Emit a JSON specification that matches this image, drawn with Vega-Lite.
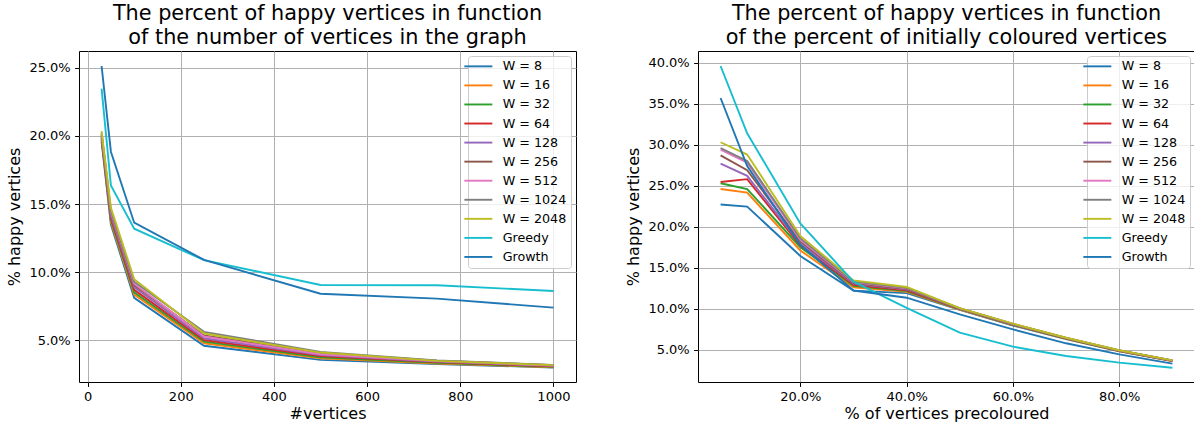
{
 "$schema": "https://vega.github.io/schema/vega-lite/v6.json",
 "padding": {"left": 6, "top": 2, "right": 0, "bottom": 0},
 "spacing": 48,
 "config": {
  "font": "DejaVu Sans",
  "view": {"stroke": "black", "strokeWidth": 1},
  "axis": {"domain": false, "grid": true, "gridColor": "#b0b0b0", "gridWidth": 1, "tickColor": "black", "tickSize": 4.4, "tickWidth": 1, "labelPadding": 4.4, "labelFontSize": 13, "labelColor": "black", "titleFontSize": 16, "titleFontWeight": "normal", "titleColor": "black", "labelFont": "DejaVu Sans", "titleFont": "DejaVu Sans"},
  "axisX": {"titlePadding": 2},
  "axisY": {"titlePadding": 6},
  "title": {"fontSize": 20.8, "fontWeight": "normal", "color": "black", "lineHeight": 24, "anchor": "middle", "offset": 2, "font": "DejaVu Sans"},
  "legend": {"orient": "top-right", "offset": 5, "title": null, "symbolType": "M-2.8,0H2.8", "symbolSize": 100, "symbolStrokeWidth": 1.9, "labelFontSize": 12.7, "labelFont": "DejaVu Sans", "labelColor": "black", "labelOffset": 18, "rowPadding": 5.06, "padding": 4, "strokeColor": "#cccccc", "fillColor": "rgba(255,255,255,0.8)", "cornerRadius": 3}
 },
 "resolve": {"legend": {"color": "independent"}},
 "datasets": {
  "left": [
   {"s":"W = 8","x":30,"y":0.1960},{"s":"W = 8","x":50,"y":0.1350},{"s":"W = 8","x":100,"y":0.0812},{"s":"W = 8","x":250,"y":0.0460},{"s":"W = 8","x":500,"y":0.0356},{"s":"W = 8","x":750,"y":0.0326},{"s":"W = 8","x":1000,"y":0.0300},
   {"s":"W = 16","x":30,"y":0.1970},{"s":"W = 16","x":50,"y":0.1368},{"s":"W = 16","x":100,"y":0.0835},{"s":"W = 16","x":250,"y":0.0478},{"s":"W = 16","x":500,"y":0.0368},{"s":"W = 16","x":750,"y":0.0330},{"s":"W = 16","x":1000,"y":0.0302},
   {"s":"W = 32","x":30,"y":0.1980},{"s":"W = 32","x":50,"y":0.1385},{"s":"W = 32","x":100,"y":0.0852},{"s":"W = 32","x":250,"y":0.0490},{"s":"W = 32","x":500,"y":0.0376},{"s":"W = 32","x":750,"y":0.0335},{"s":"W = 32","x":1000,"y":0.0305},
   {"s":"W = 64","x":30,"y":0.1990},{"s":"W = 64","x":50,"y":0.1398},{"s":"W = 64","x":100,"y":0.0870},{"s":"W = 64","x":250,"y":0.0502},{"s":"W = 64","x":500,"y":0.0384},{"s":"W = 64","x":750,"y":0.0340},{"s":"W = 64","x":1000,"y":0.0309},
   {"s":"W = 128","x":30,"y":0.2000},{"s":"W = 128","x":50,"y":0.1412},{"s":"W = 128","x":100,"y":0.0890},{"s":"W = 128","x":250,"y":0.0515},{"s":"W = 128","x":500,"y":0.0392},{"s":"W = 128","x":750,"y":0.0344},{"s":"W = 128","x":1000,"y":0.0312},
   {"s":"W = 256","x":30,"y":0.2010},{"s":"W = 256","x":50,"y":0.1428},{"s":"W = 256","x":100,"y":0.0905},{"s":"W = 256","x":250,"y":0.0535},{"s":"W = 256","x":500,"y":0.0405},{"s":"W = 256","x":750,"y":0.0350},{"s":"W = 256","x":1000,"y":0.0318},
   {"s":"W = 512","x":30,"y":0.2015},{"s":"W = 512","x":50,"y":0.1440},{"s":"W = 512","x":100,"y":0.0915},{"s":"W = 512","x":250,"y":0.0528},{"s":"W = 512","x":500,"y":0.0398},{"s":"W = 512","x":750,"y":0.0347},{"s":"W = 512","x":1000,"y":0.0315},
   {"s":"W = 1024","x":30,"y":0.2022},{"s":"W = 1024","x":50,"y":0.1452},{"s":"W = 1024","x":100,"y":0.0930},{"s":"W = 1024","x":250,"y":0.0562},{"s":"W = 1024","x":500,"y":0.0415},{"s":"W = 1024","x":750,"y":0.0352},{"s":"W = 1024","x":1000,"y":0.0320},
   {"s":"W = 2048","x":30,"y":0.2035},{"s":"W = 2048","x":50,"y":0.1473},{"s":"W = 2048","x":100,"y":0.0948},{"s":"W = 2048","x":250,"y":0.0550},{"s":"W = 2048","x":500,"y":0.0410},{"s":"W = 2048","x":750,"y":0.0349},{"s":"W = 2048","x":1000,"y":0.0318},
   {"s":"Greedy","x":30,"y":0.2347},{"s":"Greedy","x":50,"y":0.1637},{"s":"Greedy","x":100,"y":0.1319},{"s":"Greedy","x":250,"y":0.1088},{"s":"Greedy","x":500,"y":0.0906},{"s":"Greedy","x":750,"y":0.0904},{"s":"Greedy","x":1000,"y":0.0862},
   {"s":"Growth","x":30,"y":0.2513},{"s":"Growth","x":50,"y":0.1884},{"s":"Growth","x":100,"y":0.1363},{"s":"Growth","x":250,"y":0.1090},{"s":"Growth","x":500,"y":0.0842},{"s":"Growth","x":750,"y":0.0806},{"s":"Growth","x":1000,"y":0.0740}
  ],
  "right": [
   {"s":"W = 8","x":0.05,"y":0.2270},{"s":"W = 8","x":0.10,"y":0.2245},{"s":"W = 8","x":0.20,"y":0.1643},{"s":"W = 8","x":0.30,"y":0.1220},{"s":"W = 8","x":0.40,"y":0.1190},{"s":"W = 8","x":0.50,"y":0.0985},{"s":"W = 8","x":0.60,"y":0.0795},{"s":"W = 8","x":0.70,"y":0.0630},{"s":"W = 8","x":0.80,"y":0.0480},{"s":"W = 8","x":0.90,"y":0.0360},
   {"s":"W = 16","x":0.05,"y":0.2460},{"s":"W = 16","x":0.10,"y":0.2415},{"s":"W = 16","x":0.20,"y":0.1710},{"s":"W = 16","x":0.30,"y":0.1262},{"s":"W = 16","x":0.40,"y":0.1205},{"s":"W = 16","x":0.50,"y":0.0990},{"s":"W = 16","x":0.60,"y":0.0800},{"s":"W = 16","x":0.70,"y":0.0634},{"s":"W = 16","x":0.80,"y":0.0484},{"s":"W = 16","x":0.90,"y":0.0362},
   {"s":"W = 32","x":0.05,"y":0.2530},{"s":"W = 32","x":0.10,"y":0.2460},{"s":"W = 32","x":0.20,"y":0.1750},{"s":"W = 32","x":0.30,"y":0.1280},{"s":"W = 32","x":0.40,"y":0.1215},{"s":"W = 32","x":0.50,"y":0.0994},{"s":"W = 32","x":0.60,"y":0.0804},{"s":"W = 32","x":0.70,"y":0.0637},{"s":"W = 32","x":0.80,"y":0.0486},{"s":"W = 32","x":0.90,"y":0.0364},
   {"s":"W = 64","x":0.05,"y":0.2545},{"s":"W = 64","x":0.10,"y":0.2580},{"s":"W = 64","x":0.20,"y":0.1770},{"s":"W = 64","x":0.30,"y":0.1292},{"s":"W = 64","x":0.40,"y":0.1225},{"s":"W = 64","x":0.50,"y":0.0997},{"s":"W = 64","x":0.60,"y":0.0807},{"s":"W = 64","x":0.70,"y":0.0639},{"s":"W = 64","x":0.80,"y":0.0487},{"s":"W = 64","x":0.90,"y":0.0365},
   {"s":"W = 128","x":0.05,"y":0.2770},{"s":"W = 128","x":0.10,"y":0.2620},{"s":"W = 128","x":0.20,"y":0.1790},{"s":"W = 128","x":0.30,"y":0.1305},{"s":"W = 128","x":0.40,"y":0.1235},{"s":"W = 128","x":0.50,"y":0.1000},{"s":"W = 128","x":0.60,"y":0.0810},{"s":"W = 128","x":0.70,"y":0.0641},{"s":"W = 128","x":0.80,"y":0.0489},{"s":"W = 128","x":0.90,"y":0.0366},
   {"s":"W = 256","x":0.05,"y":0.2870},{"s":"W = 256","x":0.10,"y":0.2690},{"s":"W = 256","x":0.20,"y":0.1820},{"s":"W = 256","x":0.30,"y":0.1315},{"s":"W = 256","x":0.40,"y":0.1240},{"s":"W = 256","x":0.50,"y":0.1002},{"s":"W = 256","x":0.60,"y":0.0812},{"s":"W = 256","x":0.70,"y":0.0643},{"s":"W = 256","x":0.80,"y":0.0490},{"s":"W = 256","x":0.90,"y":0.0367},
   {"s":"W = 512","x":0.05,"y":0.2940},{"s":"W = 512","x":0.10,"y":0.2780},{"s":"W = 512","x":0.20,"y":0.1840},{"s":"W = 512","x":0.30,"y":0.1325},{"s":"W = 512","x":0.40,"y":0.1250},{"s":"W = 512","x":0.50,"y":0.1003},{"s":"W = 512","x":0.60,"y":0.0814},{"s":"W = 512","x":0.70,"y":0.0644},{"s":"W = 512","x":0.80,"y":0.0491},{"s":"W = 512","x":0.90,"y":0.0368},
   {"s":"W = 1024","x":0.05,"y":0.2960},{"s":"W = 1024","x":0.10,"y":0.2800},{"s":"W = 1024","x":0.20,"y":0.1860},{"s":"W = 1024","x":0.30,"y":0.1332},{"s":"W = 1024","x":0.40,"y":0.1255},{"s":"W = 1024","x":0.50,"y":0.1004},{"s":"W = 1024","x":0.60,"y":0.0815},{"s":"W = 1024","x":0.70,"y":0.0645},{"s":"W = 1024","x":0.80,"y":0.0492},{"s":"W = 1024","x":0.90,"y":0.0369},
   {"s":"W = 2048","x":0.05,"y":0.3030},{"s":"W = 2048","x":0.10,"y":0.2880},{"s":"W = 2048","x":0.20,"y":0.1887},{"s":"W = 2048","x":0.30,"y":0.1345},{"s":"W = 2048","x":0.40,"y":0.1265},{"s":"W = 2048","x":0.50,"y":0.1006},{"s":"W = 2048","x":0.60,"y":0.0817},{"s":"W = 2048","x":0.70,"y":0.0646},{"s":"W = 2048","x":0.80,"y":0.0493},{"s":"W = 2048","x":0.90,"y":0.0370},
   {"s":"Greedy","x":0.05,"y":0.3960},{"s":"Greedy","x":0.10,"y":0.3140},{"s":"Greedy","x":0.20,"y":0.2040},{"s":"Greedy","x":0.30,"y":0.1330},{"s":"Greedy","x":0.40,"y":0.1010},{"s":"Greedy","x":0.50,"y":0.0707},{"s":"Greedy","x":0.60,"y":0.0537},{"s":"Greedy","x":0.70,"y":0.0423},{"s":"Greedy","x":0.80,"y":0.0342},{"s":"Greedy","x":0.90,"y":0.0280},
   {"s":"Growth","x":0.05,"y":0.3570},{"s":"Growth","x":0.10,"y":0.2740},{"s":"Growth","x":0.20,"y":0.1780},{"s":"Growth","x":0.30,"y":0.1222},{"s":"Growth","x":0.40,"y":0.1134},{"s":"Growth","x":0.50,"y":0.0930},{"s":"Growth","x":0.60,"y":0.0748},{"s":"Growth","x":0.70,"y":0.0578},{"s":"Growth","x":0.80,"y":0.0443},{"s":"Growth","x":0.90,"y":0.0330}
  ]
 },
 "hconcat": [
  {
   "width": 497, "height": 331,
   "title": {"text": ["The percent of happy vertices in function", "of the number of vertices in the graph"]},
   "data": {"name": "left"},
   "mark": {"type": "line", "strokeWidth": 1.9},
   "encoding": {
    "x": {"field": "x", "type": "quantitative", "scale": {"domain": [-18.5, 1048.5], "nice": false, "zero": false}, "axis": {"title": "#vertices", "values": [0, 200, 400, 600, 800, 1000], "format": "d"}},
    "y": {"field": "y", "type": "quantitative", "scale": {"domain": [0.0194, 0.2623], "nice": false, "zero": false}, "axis": {"title": "% happy vertices", "values": [0.05, 0.10, 0.15, 0.20, 0.25], "format": ".1%"}},
    "color": {"field": "s", "type": "nominal", "scale": {"domain": ["W = 8", "W = 16", "W = 32", "W = 64", "W = 128", "W = 256", "W = 512", "W = 1024", "W = 2048", "Greedy", "Growth"], "range": ["#1f77b4", "#ff7f0e", "#2ca02c", "#d62728", "#9467bd", "#8c564b", "#e377c2", "#7f7f7f", "#bcbd22", "#17becf", "#1f77b4"]}}
   }
  },
  {
   "width": 497, "height": 331,
   "title": {"text": ["The percent of happy vertices in function", "of the percent of initially coloured vertices"]},
   "data": {"name": "right"},
   "mark": {"type": "line", "strokeWidth": 1.9},
   "encoding": {
    "x": {"field": "x", "type": "quantitative", "scale": {"domain": [0.0075, 0.9425], "nice": false, "zero": false}, "axis": {"title": "% of vertices precoloured", "values": [0.2, 0.4, 0.6, 0.8], "format": ".1%"}},
    "y": {"field": "y", "type": "quantitative", "scale": {"domain": [0.0106, 0.4143], "nice": false, "zero": false}, "axis": {"title": "% happy vertices", "values": [0.05, 0.10, 0.15, 0.20, 0.25, 0.30, 0.35, 0.40], "format": ".1%"}},
    "color": {"field": "s", "type": "nominal", "scale": {"domain": ["W = 8", "W = 16", "W = 32", "W = 64", "W = 128", "W = 256", "W = 512", "W = 1024", "W = 2048", "Greedy", "Growth"], "range": ["#1f77b4", "#ff7f0e", "#2ca02c", "#d62728", "#9467bd", "#8c564b", "#e377c2", "#7f7f7f", "#bcbd22", "#17becf", "#1f77b4"]}}
   }
  }
 ]
}
